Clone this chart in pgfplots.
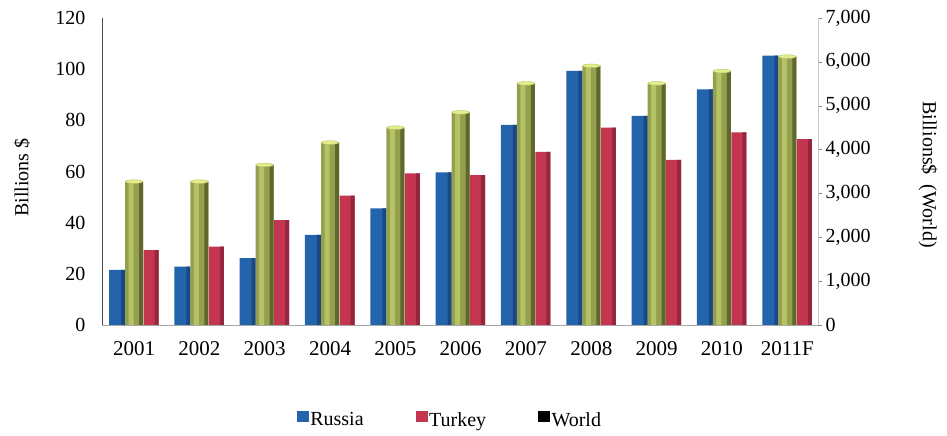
\documentclass[border=0pt]{standalone}
\usepackage{fontspec}
\setmainfont{Liberation Serif}
\usepackage{pgfplots}
\pgfplotsset{compat=1.18}
\definecolor{rus}{RGB}{36,100,172}
\definecolor{rusD}{RGB}{26,72,132}
\definecolor{tur}{RGB}{196,54,80}
\definecolor{turD}{RGB}{150,38,60}
\definecolor{wld}{RGB}{148,160,78}
\definecolor{wldD}{RGB}{95,103,44}
\definecolor{wldL}{RGB}{182,194,102}
\definecolor{wldT}{RGB}{228,236,140}
\newcommand{\fs}{\fontsize{20}{23}\selectfont}
\pgfplotstableread{
x rus tur wld
0 21.5 29.3 3270
1 22.8 30.6 3270
2 26.1 41.0 3650
3 35.2 50.6 4160
4 45.6 59.3 4500
5 59.7 58.6 4850
6 78.2 67.7 5510
7 99.3 77.1 5910
8 81.7 64.5 5510
9 92.1 75.3 5790
10 105.3 72.7 6120
}\data
\begin{document}
\begin{tikzpicture}
\useasboundingbox (0,0) rectangle (947pt,436pt);
\pgfplotsset{
  base/.style={
    at={(102pt,111pt)}, anchor=south west,
    width=716pt, height=307pt, scale only axis,
    xmin=-0.49, xmax=10.47,
    /pgf/number format/assume math mode=true,
    tick label style={font=\fs},
    axis line style={-},
  }
}
\begin{axis}[base,
  ymin=0, ymax=120, ytick={0,20,...,120},
  xtick={0,...,10},
  xticklabels={2001,2002,2003,2004,2005,2006,2007,2008,2009,2010,2011F},
  xticklabel style={font=\fontsize{21}{24}\selectfont, yshift=-13pt},
  yticklabel style={xshift=-13pt},
  major tick length=0pt,
  axis x line*=bottom, axis y line*=left,
  x axis line style={gray!70},
  y axis line style={black!70},
  ylabel={Billions \$},
  ylabel style={font=\fs, at={(axis description cs:-0.112,0.48)}, anchor=center},
]
\addplot[ybar, bar width=16pt, bar shift=-17pt, draw=none, fill=rus] table[x=x, y=rus] {\data};
\addplot[ybar, bar width=4pt, bar shift=-11pt, draw=none, fill=rusD] table[x=x, y=rus] {\data};
\addplot[ybar, bar width=15pt, bar shift=17pt, draw=none, fill=tur] table[x=x, y=tur] {\data};
\addplot[ybar, bar width=4pt, bar shift=22.5pt, draw=none, fill=turD] table[x=x, y=tur] {\data};
\end{axis}
\begin{axis}[base,
  ymin=0, ymax=7000, ytick={0,1000,...,7000},
  xtick=\empty,
  axis y line*=right, axis x line=none,
  y axis line style={gray!45},
  ytick style={gray},
  tick align=outside, major tick length=4pt,
  yticklabel style={/pgf/number format/1000 sep={,}},
  every axis y label/.style={at={(axis description cs:1.1536,0.49)}, rotate=-90, anchor=center, font=\fs},
  ylabel={Billions\$\ \ (World)},
  legend columns=-1,
  legend style={draw=none, fill=none, font=\fs, at={(axis description cs:0.486,-0.309)}, anchor=center,
    /tikz/every even column/.append style={column sep=50pt}},
  legend image code/.code={\fill[#1] (0pt,-1pt) rectangle (11pt,9pt);},
]
\addplot[ybar, bar width=18pt, bar shift=0pt, draw=none, fill=wld, forget plot] table[x=x, y=wld] {\data};
\addplot[ybar, bar width=5pt, bar shift=-3pt, draw=none, fill=wldL, forget plot] table[x=x, y=wld] {\data};
\addplot[ybar, bar width=4pt, bar shift=7pt, draw=none, fill=wldD, forget plot] table[x=x, y=wld] {\data};
\addplot[only marks, mark=*, mark size=5.3pt, mark options={xscale=1.65, yscale=0.35, fill=wldT, draw=wldL}, forget plot] table[x=x, y=wld] {\data};
\addlegendimage{rus}\addlegendentry{Russia}
\addlegendimage{tur}\addlegendentry{Turkey}
\addlegendimage{black}\addlegendentry{World}
\end{axis}
\end{tikzpicture}
\end{document}
